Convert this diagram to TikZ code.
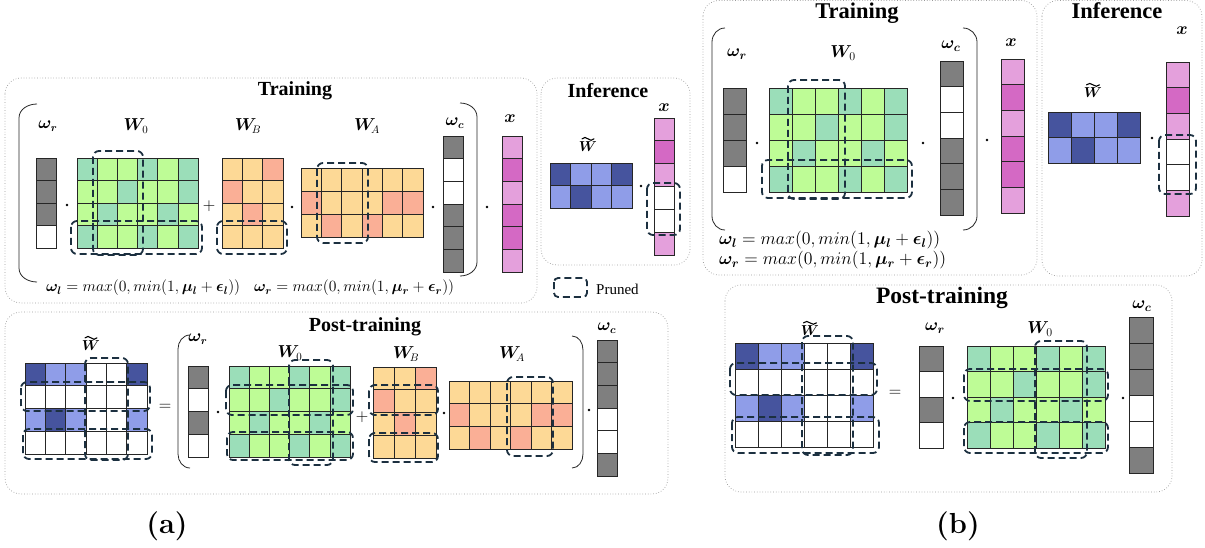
\documentclass[tikz,border=0pt]{standalone}
\usepackage[no-math]{fontspec}
\usepackage{amsmath,bm,graphicx}
\newfontfamily\tms{Liberation Serif}

\definecolor{tl}{RGB}{155,222,185}
\definecolor{gr}{RGB}{190,252,150}
\definecolor{ye}{RGB}{253,217,150}
\definecolor{sa}{RGB}{250,175,150}
\definecolor{pk}{RGB}{228,160,220}
\definecolor{mg}{RGB}{212,105,196}
\definecolor{db}{RGB}{70,84,158}
\definecolor{lb}{RGB}{143,157,232}
\definecolor{gy}{RGB}{127,127,127}
\definecolor{wh}{RGB}{255,255,255}
\definecolor{navy}{RGB}{28,48,64}

% grid of coloured cells: x, y (top-left), cell width, cell height, rows of colours
\newcommand\gridmat[5]{%
  \foreach \rw [count=\ri] in {#5} {%
    \foreach \cl [count=\ci] in \rw {%
      \filldraw[cellbox, fill=\cl] ({#1+(\ci-1)*#3},{#2+(\ri-1)*#4}) rectangle ++(#3,#4);
    }%
  }%
}
% bracket: tip x, bar x, top y, bottom y
\newcommand\lbrk[4]{\draw[paren] (#1,#3) to[out=180,in=90] (#2,{#3+14}) -- (#2,{#4-14}) to[out=-90,in=180] (#1,#4);}
\newcommand\rbrk[4]{\draw[paren] (#1,#3) to[out=0,in=90] (#2,{#3+14}) -- (#2,{#4-14}) to[out=-90,in=0] (#1,#4);}
% wide tilde over a node: node name, half width (pt)
\newcommand\tildeon[2]{\draw[line width=1.1pt,line cap=round]
  ([shift={(-#2 pt,3pt)}]#1.north) sin ++(#2*0.5pt,1.4pt) cos ++(#2*0.5pt,-1.4pt)
  sin ++(#2*0.5pt,-1.4pt) cos ++(#2*0.5pt,1.4pt);}
% gate formulas
\newcommand\gatel{$\bm{\omega}_{\bm{l}} = max(0, min(1, \bm{\mu}_{\bm{l}} + \bm{\epsilon}_{\bm{l}}))$}
\newcommand\gater{$\bm{\omega}_{\bm{r}} = max(0, min(1, \bm{\mu}_{\bm{r}} + \bm{\epsilon}_{\bm{r}}))$}

\begin{document}
\begin{tikzpicture}[x=1pt,y=-1pt,
  cellbox/.style={draw=black!85,line width=0.7pt},
  prune/.style={draw=navy,line width=1.8pt,dash pattern=on 7pt off 4pt,rounded corners=6pt},
  panel/.style={draw=black!40,dotted,line width=0.7pt,rounded corners=16pt},
  paren/.style={draw=black!85,line width=0.8pt},
  lab/.style={inner sep=0pt,font=\fontsize{16}{16}\selectfont},
  labb/.style={inner sep=0pt,font=\fontsize{18.5}{18.5}\selectfont},
  labw/.style={inner sep=0pt,font=\fontsize{14}{14}\selectfont},
  labwb/.style={inner sep=0pt,font=\fontsize{15.5}{15.5}\selectfont},
  ttl/.style={inner sep=0pt,font=\tms\bfseries\fontsize{20}{20}\selectfont},
  ttlb/.style={inner sep=0pt,font=\tms\bfseries\fontsize{22.5}{22.5}\selectfont},
  form/.style={inner sep=0pt,anchor=west,font=\fontsize{14}{14}\selectfont},
  op/.style={inner sep=0pt,font=\fontsize{18}{18}\selectfont},
  subcap/.style={inner sep=0pt,font=\bfseries\fontsize{29}{29}\selectfont},
  dotfill/.style={fill=black}]
\useasboundingbox (0,0) rectangle (1205,548);

%================ (a) Training ================
\draw[panel] (5,78) rectangle (537,303);
\node[ttl] (ta) at (295,91) {Training};
\lbrk{37}{19}{104}{282}
\rbrk{460}{477}{103}{276}
\node[lab] (wra) at (48,126) {$\bm{\omega}_{\bm{r}}$};
\gridmat{36}{158}{20}{22.5}{{gy},{gy},{gy},{wh}}
\fill[dotfill] (67,205) circle (1.3);
\node[lab] (w0a) at (136,126) {$\bm{W}_0$};
\gridmat{77}{158}{20.17}{22.5}{{tl,gr,gr,tl,gr,tl},{gr,gr,tl,gr,gr,tl},{gr,tl,gr,gr,tl,gr},{tl,gr,gr,tl,gr,tl}}
\node[op] (pla) at (209,206) {$+$};
\node[lab] (wba) at (248,126) {$\bm{W}_{\!B}$};
\gridmat{222}{158}{20.33}{22.5}{{ye,ye,sa},{sa,ye,ye},{ye,sa,ye},{ye,ye,ye}}
\fill[dotfill] (292,207) circle (1.3);
\node[lab] (waa) at (367,126) {$\bm{W}_{\!A}$};
\gridmat{301}{168}{20.33}{23}{{ye,ye,ye,ye,ye,ye},{sa,ye,ye,ye,sa,sa},{ye,sa,ye,sa,ye,ye}}
\fill[dotfill] (433,207) circle (1.3);
\node[lab] (wca) at (455,123) {$\bm{\omega}_{\bm{c}}$};
\gridmat{443}{136}{20}{22.67}{{gy},{wh},{wh},{gy},{gy},{gy}}
\fill[dotfill] (487,207) circle (1.3);
\node[lab] (xa) at (510,119) {$\bm{x}$};
\gridmat{502}{136}{20}{22.67}{{pk},{mg},{pk},{mg},{mg},{pk}}
\draw[prune] (93,151) rectangle (143,255);
\draw[prune] (71,221) rectangle (202,254);
\draw[prune] (217,221) rectangle (287,254);
\draw[prune] (317,163) rectangle (368,243);
\node[form] (fla) at (46,288) {\resizebox{194pt}{!}{\gatel}};
\node[form] (fra) at (254,288) {\resizebox{200pt}{!}{\gater}};

%================ (a) Inference ================
\draw[panel] (541,78) rectangle (690,265);
\node[ttl] (ia) at (608,91) {Inference};
\node[lab] (xia) at (664,108) {$\bm{x}$};
\gridmat{654}{118}{20}{22.83}{{pk},{mg},{pk},{wh},{wh},{pk}}
\node[labw] (wtia) at (588,147) {$\bm{W}$};
\tildeon{wtia}{6}
\gridmat{550}{163}{20.5}{22.5}{{db,lb,lb,db},{lb,db,lb,lb}}
\fill[dotfill] (641,186) circle (1.3);
\draw[prune] (647,183) rectangle (680,235);

% legend
\draw[prune,rounded corners=4pt] (554,278) rectangle (587,297);
\node[inner sep=0pt,anchor=west,font=\tms\fontsize{15}{15}\selectfont] (lg) at (596,289) {Pruned};

%================ (a) Post-training ================
\draw[panel] (5,312) rectangle (668,494);
\node[ttl] (pa) at (365,327) {Post-training};
\node[labw] (wtpa) at (91,346) {$\bm{W}$};
\tildeon{wtpa}{6}
\gridmat{25}{363}{20.33}{22.75}{{db,lb,lb,wh,wh,db},{wh,wh,wh,wh,wh,wh},{lb,db,lb,wh,wh,lb},{wh,wh,wh,wh,wh,wh}}
\node[op] (eqa) at (165,407) {$=$};
\lbrk{190}{178}{335}{468}
\node[lab] (wrpa) at (198,339) {$\bm{\omega}_{\bm{r}}$};
\gridmat{188}{366}{20}{22.75}{{gy},{wh},{gy},{wh}}
\fill[dotfill] (218,412) circle (1.3);
\node[lab] (w0pa) at (290,353) {$\bm{W}_0$};
\gridmat{229}{366}{20.17}{22.75}{{tl,gr,gr,tl,gr,tl},{gr,gr,tl,gr,gr,tl},{gr,tl,gr,gr,tl,gr},{tl,gr,gr,tl,gr,tl}}
\node[op] (plpa) at (362,417) {$+$};
\node[lab] (wbpa) at (406,354) {$\bm{W}_{\!B}$};
\gridmat{373}{367}{21}{22.75}{{ye,ye,sa},{sa,ye,ye},{ye,sa,ye},{ye,ye,ye}}
\fill[dotfill] (444,413) circle (1.3);
\node[lab] (wapa) at (512,354) {$\bm{W}_{\!A}$};
\gridmat{449}{381}{20.5}{22.67}{{ye,ye,ye,ye,ye,ye},{sa,ye,ye,ye,sa,sa},{ye,sa,ye,sa,ye,ye}}
\rbrk{572}{583}{336}{468}
\fill[dotfill] (589,410) circle (1.3);
\node[lab] (wcpa) at (607,328) {$\bm{\omega}_{\bm{c}}$};
\gridmat{597}{340}{20}{22.67}{{gy},{gy},{gy},{wh},{wh},{gy}}
\draw[prune] (85,358) rectangle (128,460);
\draw[prune] (21,382) rectangle (150,411);
\draw[prune] (23,429) rectangle (152,459);
\draw[prune] (289,360) rectangle (333,465);
\draw[prune] (226,385) rectangle (353,415);
\draw[prune] (227,432) rectangle (353,460);
\draw[prune] (369,385) rectangle (438,415);
\draw[prune] (369,433) rectangle (438,462);
\draw[prune] (507,377) rectangle (553,456);

\node[subcap] (capa) at (167,526) {(a)};

%================ (b) Training ================
\draw[panel] (703,0.5) rectangle (1037,275);
\node[ttlb] (tb) at (857,13) {Training};
\lbrk{725}{712}{28}{230}
\rbrk{963}{977}{28}{230}
\node[labb] (wrb) at (737,54) {$\bm{\omega}_{\bm{r}}$};
\gridmat{723}{88}{23}{26}{{gy},{gy},{gy},{wh}}
\fill[dotfill] (757,143) circle (1.4);
\node[labb] (w0b) at (843,53) {$\bm{W}_0$};
\gridmat{769}{88}{23}{26}{{tl,gr,gr,tl,gr,tl},{gr,gr,tl,gr,gr,tl},{gr,tl,gr,gr,tl,gr},{tl,gr,gr,tl,gr,tl}}
\fill[dotfill] (923,143) circle (1.4);
\node[labb] (wcb) at (951,46) {$\bm{\omega}_{\bm{c}}$};
\gridmat{940}{61}{23}{25.67}{{gy},{wh},{wh},{gy},{gy},{gy}}
\fill[dotfill] (987,140) circle (1.4);
\node[labb] (xb) at (1011,43) {$\bm{x}$};
\gridmat{1001}{59}{23}{25.67}{{pk},{mg},{pk},{mg},{mg},{pk}}
\draw[prune] (788,80) rectangle (845,199);
\draw[prune] (762,160) rectangle (912,198);
\node[form] (flb) at (719,240) {\resizebox{221pt}{!}{\gatel}};
\node[form] (frb) at (719,260) {\resizebox{227pt}{!}{\gater}};

%================ (b) Inference ================
\draw[panel] (1042,0.5) rectangle (1202,276);
\node[ttlb] (ib) at (1117,11) {Inference};
\node[labb] (xib) at (1182,31) {$\bm{x}$};
\gridmat{1166}{62}{23}{25.67}{{pk},{mg},{pk},{wh},{wh},{pk}}
\node[labwb] (wtib) at (1093,93) {$\bm{W}$};
\tildeon{wtib}{6.5}
\gridmat{1048}{112}{23}{25.5}{{db,lb,lb,db},{lb,db,lb,lb}}
\fill[dotfill] (1152,138) circle (1.4);
\draw[prune] (1159,135) rectangle (1196,194);

%================ (b) Post-training ================
\draw[panel] (725,285) rectangle (1172,492);
\node[ttlb,font=\tms\bfseries\fontsize{23.5}{23.5}\selectfont] (pb) at (942,298) {Post-training};
\node[labwb] (wtpb) at (810,331) {$\bm{W}$};
\tildeon{wtpb}{6.5}
\gridmat{735}{343}{23}{26}{{db,lb,lb,wh,wh,db},{wh,wh,wh,wh,wh,wh},{lb,db,lb,wh,wh,lb},{wh,wh,wh,wh,wh,wh}}
\node[op] (eqb) at (895,393) {$=$};
\node[labb] (wrpb) at (935,328) {$\bm{\omega}_{\bm{r}}$};
\gridmat{919}{346}{24}{25.5}{{gy},{wh},{gy},{wh}}
\fill[dotfill] (953,398) circle (1.4);
\node[labb] (w0pb) at (1040,329) {$\bm{W}_0$};
\gridmat{967}{346}{23}{25.5}{{tl,gr,gr,tl,gr,tl},{gr,gr,tl,gr,gr,tl},{gr,tl,gr,gr,tl,gr},{tl,gr,gr,tl,gr,tl}}
\fill[dotfill] (1123,398) circle (1.4);
\node[labb] (wcpb) at (1142,306) {$\bm{\omega}_{\bm{c}}$};
\gridmat{1129}{317}{24}{26}{{gy},{gy},{gy},{wh},{wh},{gy}}
\draw[prune] (802,336) rectangle (853,455);
\draw[prune] (730,363) rectangle (877,395);
\draw[prune] (732,417) rectangle (879,453);
\draw[prune] (1035,341) rectangle (1087,458);
\draw[prune] (964,369) rectangle (1108,401);
\draw[prune] (964,422) rectangle (1108,453);

\node[subcap] (capb) at (958,526) {(b)};
\end{tikzpicture}
\end{document}
